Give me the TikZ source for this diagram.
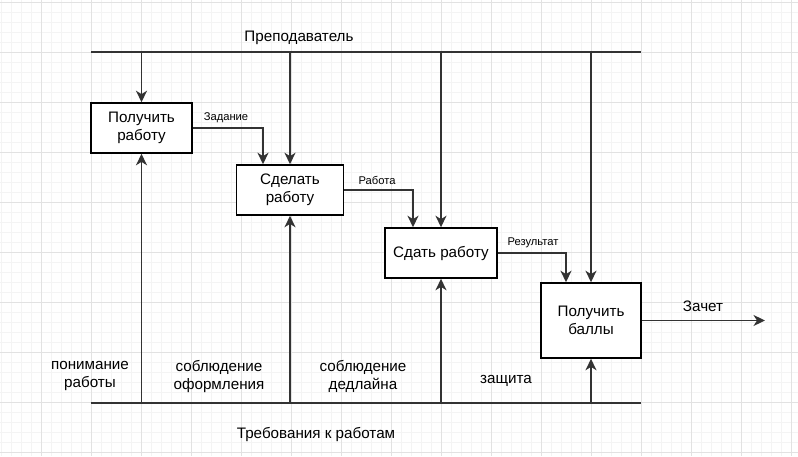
\documentclass[tikz,border=0pt]{standalone}
\usepackage{fontspec}
\setmainfont{Liberation Sans}
\usetikzlibrary{arrows.meta}
\definecolor{gridminor}{HTML}{F4F4F4}
\definecolor{gridmajor}{HTML}{E2E2E2}
\definecolor{linec}{HTML}{333333}
\tikzset{
  proc/.style={draw=black, line width=1.6pt, fill=white, align=center, inner sep=0pt, font=\fontsize{15.2}{18}\selectfont},
  arr/.style={draw=linec, line width=1.7pt, -{Stealth[length=11.5pt,width=11pt,inset=3.5pt]}},
  bar/.style={draw=linec, line width=1.7pt},
  lbl/.style={align=center, font=\fontsize{15.2}{18}\selectfont, inner sep=0pt},
  small/.style={font=\fontsize{11.2}{13}\selectfont, inner sep=0pt},
}
\begin{document}
\begin{tikzpicture}[x=1pt,y=-1pt]
\useasboundingbox (0,0) rectangle (798,456);
\fill[white] (0,0) rectangle (798,456);
% grid
\foreach \i in {0,...,80} { \draw[gridminor, line width=0.8pt] (1.5+10*\i,0) -- (1.5+10*\i,456); }
\foreach \i in {0,...,46} { \draw[gridminor, line width=0.8pt] (0,2.5+10*\i) -- (798,2.5+10*\i); }
\foreach \i in {0,...,16} { \draw[gridmajor, line width=0.8pt] (-8.5+50*\i,0) -- (-8.5+50*\i,456); }
\foreach \i in {0,...,9} { \draw[gridmajor, line width=0.8pt] (0,2.5+50*\i) -- (798,2.5+50*\i); }

% bars
\coordinate (tl) at (91,52);
\coordinate (tr) at (641,52);
\coordinate (bl) at (91,403);
\coordinate (br) at (641,403);
\draw[bar] (tl) -- (tr);
\draw[bar] (bl) -- (br);
\node[lbl] (teacher) at (299,38) {Преподаватель};
\node[lbl] (req) at (316,434) {Требования к работам};

% boxes
\node[proc, minimum width=101pt, minimum height=50pt] (b1) at (141.5,128) {Получить\\работу};
\node[proc, minimum width=107pt, minimum height=50pt] (b2) at (290,190) {Сделать\\работу};
\node[proc, minimum width=112pt, minimum height=50pt] (b3) at (441,253) {Сдать работу};
\node[proc, minimum width=100pt, minimum height=75pt] (b4) at (591,320.5) {Получить\\баллы};

% control arrows
\foreach \b in {b1,b2,b3,b4} {
  \draw[arr] (\b.north |- tl) -- (\b.north);
  \draw[arr] (\b.south |- bl) -- (\b.south);
}

% flows
\coordinate (e) at (765,320.5);
\draw[arr] (b1.east) -| ([xshift=-27pt]b2.north);
\draw[arr] (b2.east) -| ([xshift=-28pt]b3.north);
\draw[arr] (b3.east) -| ([xshift=-25pt]b4.north);
\draw[arr] (b4.east) -- (e);

\node[small] (l1) at (226,118) {Задание};
\node[small] (l2) at (377,180.5) {Работа};
\node[small] (l3) at (533,242.5) {Результат};
\node[lbl] (l4) at (703,306) {Зачет};

\node[lbl] (m1) at (90,376) {понимание\\работы};
\node[lbl] (m2) at (219,376) {соблюдение\\оформления};
\node[lbl] (m3) at (363,376) {соблюдение\\дедлайна};
\node[lbl] (m4) at (506,381) {защита};
\end{tikzpicture}
\end{document}
